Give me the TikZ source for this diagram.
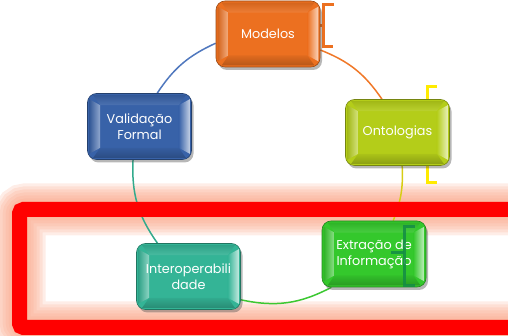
\documentclass[tikz,border=0pt]{standalone}
\usepackage{fontspec}
\setmainfont{Poppins}
\usetikzlibrary{shadows,calc}
\definecolor{cOr}{RGB}{236,112,32}
\definecolor{cYg}{RGB}{180,205,25}
\definecolor{cGr}{RGB}{52,200,44}
\definecolor{cTe}{RGB}{52,180,150}
\definecolor{cBl}{RGB}{56,98,168}
\definecolor{glowc}{RGB}{250,165,135}
\definecolor{lBl}{RGB}{80,120,190}
\definecolor{lOr}{RGB}{240,120,40}
\definecolor{lYe}{RGB}{215,205,20}
\definecolor{lGr}{RGB}{60,200,50}
\definecolor{lTe}{RGB}{50,170,140}
\definecolor{brY}{RGB}{255,235,0}
\definecolor{brG}{RGB}{20,140,70}
\pgfdeclarelayer{glowlayer}
\pgfdeclarelayer{connlayer}
\pgfdeclarelayer{framelayer}
\pgfsetlayers{glowlayer,connlayer,framelayer,main}
\tikzset{
  bbox/.style={rectangle, rounded corners=9pt, minimum width=104pt, minimum height=66pt, inner sep=0pt,
    line width=0.6pt, drop shadow={shadow xshift=2pt, shadow yshift=-3pt, opacity=0.4, fill=black!70}},
  btext/.style={text=white, font=\fontsize{12.8}{16}\selectfont, align=center, inner sep=0pt},
  conn/.style={line width=1.5pt},
  brk/.style={line width=3pt},
}
\newcommand\bevbox[5]{%
  \node[bbox, fill=#4, draw=#4!65!black] (#1) at (#2,#3) {};
  \path[left color=#4!90!black, right color=#4!55!white]
    ($(#1.north west)+(2,-6)$) -- ($(#1.south west)+(2,6)$) -- ($(#1.south west)+(13,12)$) -- ($(#1.north west)+(13,-12)$) -- cycle;
  \path[left color=#4, right color=#4!30!white]
    ($(#1.north east)+(-13,-12)$) -- ($(#1.south east)+(-13,12)$) -- ($(#1.south east)+(-2,6)$) -- ($(#1.north east)+(-2,-6)$) -- cycle;
  \path[top color=#4!90!black, bottom color=#4!90!white]
    ($(#1.north west)+(6,-2)$) -- ($(#1.north east)+(-6,-2)$) -- ($(#1.north east)+(-13,-12)$) -- ($(#1.north west)+(13,-12)$) -- cycle;
  \path[top color=#4!95!black, bottom color=#4!78!black]
    ($(#1.south west)+(6,2)$) -- ($(#1.south east)+(-6,2)$) -- ($(#1.south east)+(-13,12)$) -- ($(#1.south west)+(13,12)$) -- cycle;
  \node[btext] (#1t) at (#1.center) {#5};
}
\begin{document}
\begin{tikzpicture}[x=1pt,y=1pt]
\useasboundingbox (0,0) rectangle (508,336);
\clip (0,0) rectangle (508,336);
% boxes
\bevbox{mod}{268}{302}{cOr}{Modelos}
\bevbox{ont}{397.5}{203.5}{cYg}{Ontologias}
\bevbox{ext}{374}{82}{cGr}{Extração de\\Informação}
\bevbox{int}{188.5}{59.5}{cTe}{Interoperabili\\dade}
\bevbox{val}{139.5}{209.5}{cBl}{Validação\\Formal}
% bracket in front
\draw[brk, brG, opacity=0.85] (415,109) -- (404,109) -- (404,50) -- (415,50);
\draw[brk, brG, opacity=0.85] (404,83) -- (391,83);
\begin{pgfonlayer}{glowlayer}
\foreach \w in {52,46,40,34,28,22,17}{
  \draw[glowc, line width=\w pt, opacity=0.2, rounded corners=6pt] (19.5,126.5) rectangle (540,8.5);
}
\end{pgfonlayer}
\begin{pgfonlayer}{connlayer}
\draw[conn, lBl] (val.62) to[bend left=16] (mod.190);
\draw[conn, lOr] (mod.-17) to[bend left=17] (ont.115);
\draw[conn, lYe] (ont.-82) to[bend left=12] (ext.60);
\draw[conn, lGr] (ext.218) to[bend left=20] (int.-24.5);
\draw[conn, lTe] (int.133) to[bend left=19] (val.259);
\end{pgfonlayer}
\begin{pgfonlayer}{framelayer}
\draw[red, line width=15pt, rounded corners=4pt] (19.5,126.5) rectangle (540,8.5);
\draw[brk, cOr] (334,331) -- (323,331) -- (323,289) -- (333,289);
\draw[brk, cOr] (323,310) -- (311,310);
\draw[brk, brY] (437,249) -- (427,249) -- (427,153) -- (437,153);
\end{pgfonlayer}
\end{tikzpicture}
\end{document}
